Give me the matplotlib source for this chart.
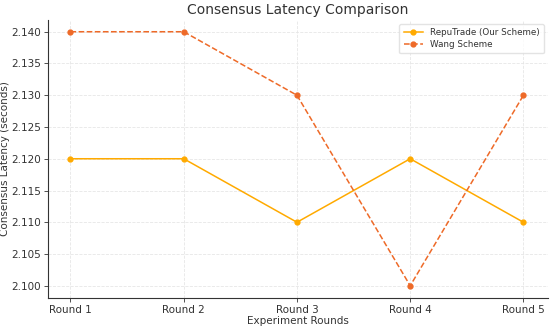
import matplotlib
matplotlib.use("Agg")
import matplotlib.pyplot as plt

rounds = ["Round 1", "Round 2", "Round 3", "Round 4", "Round 5"]
repu = [2.12, 2.12, 2.11, 2.12, 2.11]
wang = [2.14, 2.14, 2.13, 2.10, 2.13]

fig = plt.figure(figsize=(5.5, 3.28), dpi=100)
ax = fig.add_axes([0.087, 0.092, 0.91, 0.848])
ax.plot(rounds, repu, color="#FFAA00", marker="o", markersize=3.5, linewidth=1.1,
        label="RepuTrade (Our Scheme)")
ax.plot(rounds, wang, color="#EE6A28", marker="o", markersize=3.5, linewidth=1.1,
        linestyle="--", label="Wang Scheme")
ax.set_ylim(2.0981, 2.1419)
ax.set_xlim(-0.2, 4.22)
ax.set_yticks([2.100, 2.105, 2.110, 2.115, 2.120, 2.125, 2.130, 2.135, 2.140])
ax.yaxis.set_major_formatter(matplotlib.ticker.FormatStrFormatter("%.3f"))
ax.grid(True, color="#e6e6e6", linewidth=0.6, linestyle="--")
for s in ["top", "right"]:
    ax.spines[s].set_visible(False)
for s in ["left", "bottom"]:
    ax.spines[s].set_color("#333333")
    ax.spines[s].set_linewidth(0.8)
ax.tick_params(labelsize=7.5, colors="#333333", length=3, width=0.6, pad=2)
ax.set_xlabel("Experiment Rounds", fontsize=7.5, color="#333333", labelpad=1)
ax.set_ylabel("Consensus Latency (seconds)", fontsize=7.5, color="#333333", labelpad=1)
ax.set_title("Consensus Latency Comparison", fontsize=10, color="#333333", pad=4)
leg = ax.legend(loc="upper right", fontsize=6.3, frameon=True, handlelength=2.2,
                borderpad=0.5, labelspacing=0.3)
leg.get_frame().set_edgecolor("#dddddd")
for t in leg.get_texts():
    t.set_color("#333333")
fig.savefig("out.png", dpi=100)
